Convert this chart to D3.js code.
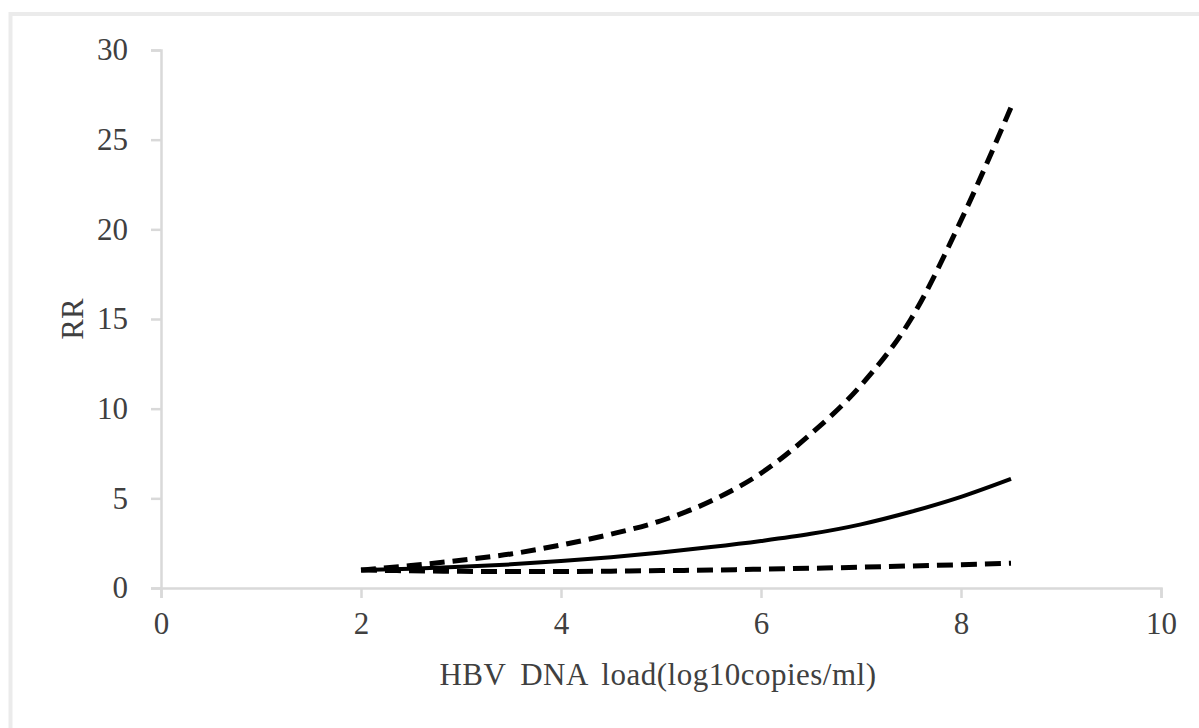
<!DOCTYPE html>
<html>
<head>
<meta charset="utf-8">
<script src="https://cdn.jsdelivr.net/npm/d3@7"></script>
<style>
  html, body { margin: 0; padding: 0; background: #fff; }
  svg { display: block; }
</style>
</head>
<body>
<svg id="chart" width="1199" height="728"></svg>
<script>
// ---- data ----
const xValues   = [2.0, 2.5, 3.0, 3.5, 4.0, 4.5, 5.0, 5.5, 6.0, 6.5, 7.0, 7.5, 8.0, 8.5];
const rrValues  = [1.0, 1.08, 1.18, 1.32, 1.5, 1.72, 1.98, 2.28, 2.62, 3.02, 3.55, 4.25, 5.08, 6.08];
const upperCI   = [1.0, 1.25, 1.55, 1.9, 2.4, 3.0, 3.75, 4.85, 6.4, 8.6, 11.3, 15.0, 20.5, 26.8];
const lowerCI   = [1.0, 0.96, 0.93, 0.92, 0.92, 0.94, 0.97, 1.0, 1.05, 1.1, 1.16, 1.23, 1.3, 1.38];
const xTicks    = [0, 2, 4, 6, 8, 10];
const yTicks    = [0, 5, 10, 15, 20, 25, 30];
const xTitle    = "HBV DNA load(log10copies/ml)";
const yTitle    = "RR";

// ---- layout ----
const svg = d3.select("#chart");
const FONT = "'Liberation Serif', 'Times New Roman', serif";
const textColor = "#404040";
const axisColor = "#d9d9d9";

// outer chart-area border
svg.append("rect")
  .attr("x", 10.5).attr("y", 14)
  .attr("width", 1240).attr("height", 760)
  .attr("fill", "none")
  .attr("stroke", "#ebebeb")
  .attr("stroke-width", 4);

const x = d3.scaleLinear().domain([0, 10]).range([161, 1161]);
const y = d3.scaleLinear().domain([0, 30]).range([588, 50]);

// axes
const yAxis = d3.axisLeft(y).tickValues(yTicks).tickSize(10).tickPadding(23).tickFormat(d3.format("d"));
const xAxis = d3.axisBottom(x).tickValues(xTicks).tickSize(10).tickPadding(14).tickFormat(d3.format("d"));

const gy = svg.append("g").attr("transform", `translate(${x(0)},0)`).call(yAxis);
const gx = svg.append("g").attr("transform", `translate(0,${y(0)})`).call(xAxis);

[gx, gy].forEach(g => {
  g.select(".domain").attr("stroke", axisColor).attr("stroke-width", 2.5);
  g.selectAll(".tick line").attr("stroke", axisColor).attr("stroke-width", 2.5);
  g.selectAll(".tick text")
    .attr("fill", textColor)
    .style("font-family", FONT)
    .style("font-size", "31px");
});

// axis titles
svg.append("text")
  .attr("x", 658).attr("y", 685)
  .attr("text-anchor", "middle")
  .attr("fill", textColor)
  .style("font-family", FONT)
  .style("font-size", "31px")
  .style("letter-spacing", "0.5px")
  .style("word-spacing", "6px")
  .text(xTitle);

svg.append("text")
  .attr("transform", "translate(83,319) rotate(-90)")
  .attr("text-anchor", "middle")
  .attr("fill", textColor)
  .style("font-family", FONT)
  .style("font-size", "31px")
  .text(yTitle);

// lines
const line = d3.line()
  .x(d => x(d[0]))
  .y(d => y(d[1]))
  .curve(d3.curveMonotoneX);

const series = [
  { values: lowerCI, dash: "16,8", width: 5 },
  { values: upperCI, dash: "15,8", width: 5 },
  { values: rrValues, dash: null, width: 4 }
];

series.forEach(s => {
  const pts = xValues.map((xv, i) => [xv, s.values[i]]);
  svg.append("path")
    .attr("d", line(pts))
    .attr("fill", "none")
    .attr("stroke", "#000")
    .attr("stroke-width", s.width)
    .attr("stroke-dasharray", s.dash)
    .attr("stroke-linejoin", "round");
});
</script>
</body>
</html>
